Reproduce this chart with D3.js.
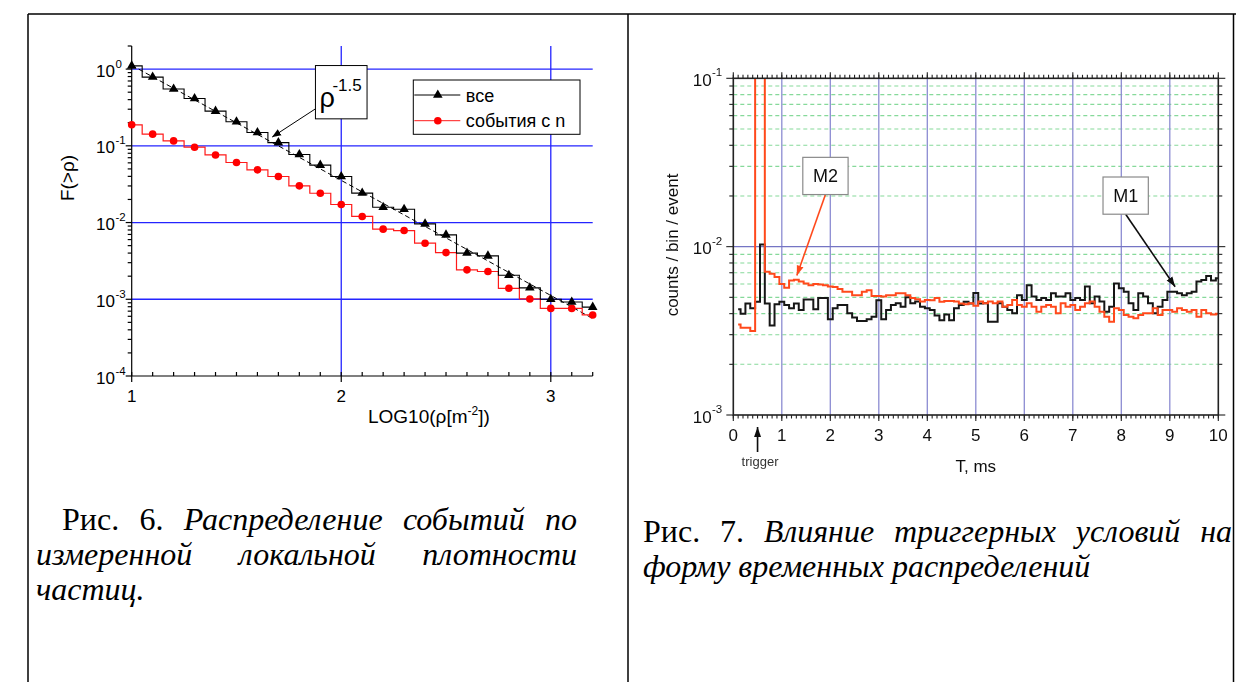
<!DOCTYPE html>
<html>
<head>
<meta charset="utf-8">
<script src="https://cdn.jsdelivr.net/npm/d3@7"></script>
<style>
  html, body { margin: 0; padding: 0; background: #fff; }
  svg { display: block; }
</style>
</head>
<body>
<svg id="fig" width="1236" height="682"></svg>
<script>
// ---------- Рис. 6: integral distribution F(>ρ) ----------
const densityLog = [1.0, 1.1, 1.2, 1.3, 1.4, 1.5, 1.6, 1.7, 1.8, 1.9, 2.0, 2.1,
                    2.2, 2.3, 2.4, 2.5, 2.6, 2.7, 2.8, 2.9, 3.0, 3.1, 3.2];
const allEvents = [1.10, 0.787, 0.55, 0.414, 0.283, 0.206, 0.149, 0.110, 0.077, 0.056,
                   0.0398, 0.0242, 0.0158, 0.0149, 0.0096, 0.0069, 0.0040, 0.00368,
                   0.00206, 0.00141, 0.00100, 0.00092, 0.00079];
const neutronEvents = [0.188, 0.142, 0.116, 0.096, 0.076, 0.0606, 0.0486, 0.0398, 0.0301,
                       0.0241, 0.0172, 0.0120, 0.0082, 0.00787, 0.00538, 0.00406, 0.00242,
                       0.00230, 0.00139, 0.00101, 0.00076, 0.00076, 0.000625];
// ρ^-1.5 reference line, end points
const powerLawLine = [[1.0, 1.12], [3.2, 0.000562]];
const fig6XTicks = [1, 2, 3];
const fig6YTicks = [1, 0.1, 0.01, 0.001, 0.0001];
const fig6YExponents = ["0", "-1", "-2", "-3", "-4"];
const fig6Legend = ["все", "события с n"];
// power-law label: box centre and arrow tip in data units
const powerLawNote = { x: 2.0, y: 0.5, tipX: 1.67, tipY: 0.13, exponent: "-1.5" };

// ---------- Рис. 7: time distributions ----------
const timeBins = [0.1, 0.2, 0.3, 0.4, 0.5, 0.6, 0.7, 0.8, 0.9, 1.0,
                  1.1, 1.2, 1.3, 1.4, 1.5, 1.6, 1.7, 1.8, 1.9, 2.0,
                  2.1, 2.2, 2.3, 2.4, 2.5, 2.6, 2.7, 2.8, 2.9, 3.0,
                  3.1, 3.2, 3.3, 3.4, 3.5, 3.6, 3.7, 3.8, 3.9, 4.0,
                  4.1, 4.2, 4.3, 4.4, 4.5, 4.6, 4.7, 4.8, 4.9, 5.0,
                  5.1, 5.2, 5.3, 5.4, 5.5, 5.6, 5.7, 5.8, 5.9, 6.0,
                  6.1, 6.2, 6.3, 6.4, 6.5, 6.6, 6.7, 6.8, 6.9, 7.0,
                  7.1, 7.2, 7.3, 7.4, 7.5, 7.6, 7.7, 7.8, 7.9, 8.0,
                  8.1, 8.2, 8.3, 8.4, 8.5, 8.6, 8.7, 8.8, 8.9, 9.0,
                  9.1, 9.2, 9.3, 9.4, 9.5, 9.6, 9.7, 9.8, 9.9, 10.0];
// counts / bin / event, in units of 1e-3
const m2Counts = [3.45, 3.3, 3.3, 3.15, 300, 300, 7.1, 6.9, 6.6, 6.0,
                  5.7, 6.3, 6.35, 6.2, 6.05, 5.9, 6.0, 5.95, 5.9, 5.8,
                  5.75, 5.6, 5.4, 5.4, 5.15, 5.15, 5.4, 5.5, 5.1, 5.1,
                  5.05, 5.15, 5.15, 5.28, 5.28, 5.15, 4.95, 4.87, 4.72, 4.82,
                  4.8, 4.95, 4.7, 4.75, 4.75, 4.72, 4.6, 4.55, 4.61, 4.45,
                  4.72, 4.61, 4.72, 4.61, 4.72, 4.4, 4.5, 4.82, 4.5, 4.4,
                  4.61, 4.4, 4.1, 4.4, 4.5, 4.4, 4.02, 4.61, 4.4, 4.5,
                  4.2, 4.4, 4.61, 4.72, 4.4, 4.1, 3.84, 3.58, 4.3, 4.2,
                  3.92, 3.84, 3.75, 3.92, 4.02, 4.02, 4.3, 3.92, 4.2, 4.2,
                  4.1, 4.3, 4.2, 4.1, 4.2, 3.84, 4.2, 4.02, 3.95, 4.0];
const m1Counts = [4.25, 4.0, 4.6, 4.3, 4.7, 10.3, 4.6, 3.4, 4.55, 4.7,
                  4.5, 4.3, 4.6, 4.2, 4.85, 4.85, 4.25, 4.95, 4.95, 3.7,
                  4.3, 4.5, 4.5, 4.02, 3.8, 3.62, 3.62, 3.7, 3.84, 4.8,
                  3.7, 4.2, 4.5, 4.61, 4.4, 5.0, 4.61, 4.72, 4.4, 4.3,
                  4.2, 3.9, 3.66, 3.95, 3.66, 4.3, 4.5, 4.7, 4.6, 5.3,
                  4.6, 4.61, 3.58, 3.58, 4.61, 4.4, 4.2, 4.02, 5.15, 4.82,
                  5.9, 5.05, 4.82, 4.95, 4.82, 5.28, 5.05, 5.05, 5.28, 4.82,
                  4.95, 4.82, 5.8, 4.61, 5.05, 4.72, 4.1, 4.4, 6.05, 5.66,
                  5.4, 4.61, 4.2, 5.28, 5.05, 4.61, 4.02, 4.4, 4.82, 5.4,
                  5.4, 5.28, 5.15, 5.28, 5.4, 6.2, 6.34, 6.7, 6.3, 6.5];
const countUnit = 1e-3;
const fig7XTicks = [0, 1, 2, 3, 4, 5, 6, 7, 8, 9, 10];
const fig7YTicks = [0.001, 0.01, 0.1];
const fig7YExponents = ["-3", "-2", "-1"];
const triggerTime = 0.5;
const fig7Notes = [
  { label: "M2", x: 1.9, y: 0.0263, tipX: 1.31, tipY: 0.00674, color: "#ff4a1c" },
  { label: "M1", x: 8.09, y: 0.0201, tipX: 9.11, tipY: 0.00578, color: "#111" }
];

// ---------- captions ----------
const fig6Caption = [
  [["Рис.", 0], ["6.", 0], ["Распределение", 1], ["событий", 1], ["по", 1]],
  [["измеренной", 1], ["локальной", 1], ["плотности", 1]],
  [["частиц.", 1]]
];
const fig7Caption = [
  [["Рис.", 0], ["7.", 0], ["Влияние", 1], ["триггерных", 1], ["условий", 1], ["на", 1]],
  [["форму", 1], ["временных", 1], ["распределений", 1]]
];

const svg = d3.select("#fig");
const SANS = "'Liberation Sans', Arial, sans-serif";
const SERIF = "'Liberation Serif', 'Times New Roman', serif";

// ---------- table frame ----------
const frame = svg.append("g").attr("stroke", "#000").attr("stroke-width", 1.5);
const frameLeft = 28, frameTop = 14, frameMid = 628, frameRight = 1233.5;
frame.append("line").attr("x1", frameLeft).attr("x2", 1236).attr("y1", frameTop).attr("y2", frameTop);
[frameLeft, frameMid, frameRight].forEach(x =>
  frame.append("line").attr("x1", x).attr("x2", x).attr("y1", frameTop).attr("y2", 682));

// ================= Рис. 6 =================
const x1 = d3.scaleLinear().domain([1, 3.2]).range([131.7, 592.7]);
const y1 = d3.scaleLog().domain([1e-4, 2]).range([376, 46]);
const g1 = svg.append("g").attr("font-family", SANS);

// blue grid
g1.append("g").selectAll("line").data(fig6YTicks.filter(d => d > 1e-4)).join("line")
  .attr("x1", x1(1)).attr("x2", x1(3.2)).attr("y1", d => y1(d)).attr("y2", d => y1(d))
  .attr("stroke", "#2424ff").attr("stroke-width", 1.3);
g1.append("g").selectAll("line").data(fig6XTicks.filter(d => d > 1)).join("line")
  .attr("x1", d => x1(d)).attr("x2", d => x1(d)).attr("y1", y1(2)).attr("y2", y1(1e-4))
  .attr("stroke", "#2424ff").attr("stroke-width", 1.3);

// axes
const ax1 = g1.append("g").attr("stroke", "#000").attr("stroke-width", 1.2);
ax1.append("line").attr("x1", x1(1)).attr("x2", x1(3.2)).attr("y1", y1(1e-4)).attr("y2", y1(1e-4));
ax1.append("line").attr("x1", x1(1)).attr("x2", x1(1)).attr("y1", y1(2)).attr("y2", y1(1e-4));
const xMinor1 = x1.ticks(22);
ax1.selectAll(".xm").data(xMinor1).join("line")
  .attr("x1", d => x1(d)).attr("x2", d => x1(d))
  .attr("y1", y1(1e-4)).attr("y2", y1(1e-4) - 4);
ax1.selectAll(".xM").data(fig6XTicks).join("line")
  .attr("x1", d => x1(d)).attr("x2", d => x1(d))
  .attr("y1", y1(1e-4)).attr("y2", y1(1e-4) + 6);
const yMinor1 = [];
fig6YTicks.forEach(dec => { for (let k = 2; k <= 9; k++) if (dec * k <= 2) yMinor1.push(dec * k); });
ax1.selectAll(".ym").data(yMinor1).join("line")
  .attr("x1", x1(1) - 4).attr("x2", x1(1)).attr("y1", d => y1(d)).attr("y2", d => y1(d));
ax1.selectAll(".yM").data(fig6YTicks).join("line")
  .attr("x1", x1(1) - 6).attr("x2", x1(1)).attr("y1", d => y1(d)).attr("y2", d => y1(d));

// tick labels
g1.selectAll(".xl").data(fig6XTicks).join("text")
  .attr("x", d => x1(d)).attr("y", 402).attr("text-anchor", "middle")
  .attr("font-size", 17).text(d => d);
fig6YTicks.forEach((d, i) => {
  g1.append("text").attr("x", 115).attr("y", y1(d) + 7.5).attr("text-anchor", "end")
    .attr("font-size", 17).text("10");
  g1.append("text").attr("x", 115.5).attr("y", y1(d) - 1.5).attr("font-size", 11.5)
    .text(fig6YExponents[i]);
});

// axis titles
const xt1 = g1.append("text").attr("x", 368).attr("y", 423).attr("font-size", 19);
xt1.append("tspan").text("LOG10(ρ[m");
xt1.append("tspan").attr("dy", -8).attr("font-size", 12).text("-2");
xt1.append("tspan").attr("dy", 8).text("])");
g1.append("text").attr("transform", "translate(74,178) rotate(-90)")
  .attr("text-anchor", "middle").attr("font-size", 19).text("F(>ρ)");

// power-law reference (dashed)
g1.append("path").datum(powerLawLine)
  .attr("d", d3.line().x(d => x1(d[0])).y(d => y1(d[1])))
  .attr("fill", "none").attr("stroke", "#000").attr("stroke-width", 1)
  .attr("stroke-dasharray", "5,3");

// step histograms with markers
const step1 = d3.line().curve(d3.curveStep).x((d, i) => x1(densityLog[i])).y(d => y1(d));
g1.append("path").datum(neutronEvents).attr("d", step1)
  .attr("fill", "none").attr("stroke", "#ff1a1a").attr("stroke-width", 1.2);
g1.append("path").datum(allEvents).attr("d", step1)
  .attr("fill", "none").attr("stroke", "#000").attr("stroke-width", 1.1);
g1.selectAll(".circ").data(neutronEvents).join("circle")
  .attr("cx", (d, i) => x1(densityLog[i])).attr("cy", d => y1(d)).attr("r", 3.8)
  .attr("fill", "#ff0000");
const tri = d3.symbol().type(d3.symbolTriangle).size(40);
g1.selectAll(".tri").data(allEvents).join("path")
  .attr("d", tri).attr("transform", (d, i) => `translate(${x1(densityLog[i])},${y1(d)})`)
  .attr("fill", "#000");

// ρ^-1.5 label with arrow
svg.append("defs").html(`
  <marker id="ahBlack" viewBox="0 0 10 10" refX="10" refY="5" markerWidth="9" markerHeight="9" markerUnits="userSpaceOnUse" orient="auto">
    <path d="M0,1 L10,5 L0,9 z" fill="#000"/></marker>
  <marker id="ahBlack2" viewBox="0 0 10 10" refX="10" refY="5" markerWidth="10" markerHeight="10" markerUnits="userSpaceOnUse" orient="auto">
    <path d="M0,1.5 L10,5 L0,8.5 z" fill="#111"/></marker>
  <marker id="ahOrange" viewBox="0 0 10 10" refX="10" refY="5" markerWidth="10" markerHeight="10" markerUnits="userSpaceOnUse" orient="auto">
    <path d="M0,1.5 L10,5 L0,8.5 z" fill="#ff4a1c"/></marker>
  <filter id="soft" x="-5%" y="-5%" width="110%" height="110%"><feGaussianBlur stdDeviation="0.55"/></filter>
  <clipPath id="plot7"><rect x="733.3" y="78.3" width="485" height="336.7"/></clipPath>
`);
{
  const cx = x1(powerLawNote.x), cy = y1(powerLawNote.y);
  const bw = 51.6, bh = 53.3, bx = cx - bw / 2, by = cy - bh / 2;
  g1.append("line").attr("x1", bx).attr("y1", by + bh - 10)
    .attr("x2", x1(powerLawNote.tipX)).attr("y2", y1(powerLawNote.tipY))
    .attr("stroke", "#000").attr("stroke-width", 1).attr("marker-end", "url(#ahBlack)");
  g1.append("rect").attr("x", bx).attr("y", by).attr("width", bw).attr("height", bh)
    .attr("fill", "#fff").attr("stroke", "#000").attr("stroke-width", 1);
  g1.append("text").attr("x", bx + 4).attr("y", by + 41).attr("font-size", 27).text("ρ");
  g1.append("text").attr("x", bx + 17).attr("y", by + 25).attr("font-size", 17)
    .text(powerLawNote.exponent);
}

// legend
{
  const lx = 413.3, ly = 80, lw = 166.7, lh = 54.3;
  const lg = g1.append("g");
  lg.append("rect").attr("x", lx).attr("y", ly).attr("width", lw).attr("height", lh)
    .attr("fill", "#fff").attr("stroke", "#000").attr("stroke-width", 1);
  const rows = [ly + 15, ly + 40.7];
  const colors = ["#000", "#ff1a1a"];
  fig6Legend.forEach((name, i) => {
    lg.append("line").attr("x1", lx + 1).attr("x2", lx + 47).attr("y1", rows[i]).attr("y2", rows[i])
      .attr("stroke", colors[i]).attr("stroke-width", 1);
    if (i === 0) {
      lg.append("path").attr("d", tri).attr("transform", `translate(${lx + 24.5},${rows[i]})`).attr("fill", "#000");
    } else {
      lg.append("circle").attr("cx", lx + 24.5).attr("cy", rows[i]).attr("r", 3.8).attr("fill", "#ff0000");
    }
    lg.append("text").attr("x", lx + 52.5).attr("y", rows[i] + 6.5).attr("font-size", 18).text(name);
  });
}

// ================= Рис. 7 =================
const x2 = d3.scaleLinear().domain([0, 10]).range([733.3, 1218.3]);
const y2 = d3.scaleLog().domain([1e-3, 1e-1]).range([415, 78.3]);
const g2 = svg.append("g").attr("font-family", SANS).attr("filter", "url(#soft)");

// green dashed minor grid
const yMinor2 = [];
[1e-3, 1e-2].forEach(dec => { for (let k = 2; k <= 9; k++) yMinor2.push(dec * k); });
g2.append("g").selectAll("line").data(yMinor2).join("line")
  .attr("x1", x2(0)).attr("x2", x2(10)).attr("y1", d => y2(d)).attr("y2", d => y2(d))
  .attr("stroke", "#86d99a").attr("stroke-width", 1.1).attr("stroke-dasharray", "4,3");
// blue major grid
g2.append("g").selectAll("line").data(fig7XTicks.filter(d => d > 0 && d < 10)).join("line")
  .attr("x1", d => x2(d)).attr("x2", d => x2(d)).attr("y1", y2(1e-1)).attr("y2", y2(1e-3))
  .attr("stroke", "#8c8cd2").attr("stroke-width", 1.3);
g2.append("line").attr("x1", x2(0)).attr("x2", x2(10)).attr("y1", y2(1e-2)).attr("y2", y2(1e-2))
  .attr("stroke", "#7474c4").attr("stroke-width", 1.3);

// histograms
const step2 = d3.line().curve(d3.curveStep).x((d, i) => x2(timeBins[i])).y(d => y2(d * countUnit));
const series = g2.append("g").attr("clip-path", "url(#plot7)");
series.append("path").datum(m1Counts).attr("d", step2)
  .attr("fill", "none").attr("stroke", "#161616").attr("stroke-width", 2);
series.append("path").datum(m2Counts).attr("d", step2)
  .attr("fill", "none").attr("stroke", "#ff4a1c").attr("stroke-width", 2);

// axes frame and ticks
const ax2 = g2.append("g").attr("stroke", "#222").attr("stroke-width", 1.6);
ax2.append("rect").attr("x", x2(0)).attr("y", y2(1e-1))
  .attr("width", x2(10) - x2(0)).attr("height", y2(1e-3) - y2(1e-1)).attr("fill", "none");
const tk = ax2.append("g").attr("stroke-width", 1.1);
const xMinor2 = x2.ticks(100);
tk.selectAll(".bm").data(xMinor2).join("line")
  .attr("x1", d => x2(d)).attr("x2", d => x2(d)).attr("y1", y2(1e-3)).attr("y2", y2(1e-3) + 3.5);
tk.selectAll(".tm").data(xMinor2).join("line")
  .attr("x1", d => x2(d)).attr("x2", d => x2(d)).attr("y1", y2(1e-1)).attr("y2", y2(1e-1) - 3.5);
tk.selectAll(".bM").data(fig7XTicks).join("line")
  .attr("x1", d => x2(d)).attr("x2", d => x2(d)).attr("y1", y2(1e-3)).attr("y2", y2(1e-3) + 6);
tk.selectAll(".tM").data(fig7XTicks).join("line")
  .attr("x1", d => x2(d)).attr("x2", d => x2(d)).attr("y1", y2(1e-1)).attr("y2", y2(1e-1) - 6);
tk.selectAll(".lm").data(yMinor2).join("line")
  .attr("x1", x2(0) - 4).attr("x2", x2(0)).attr("y1", d => y2(d)).attr("y2", d => y2(d));
tk.selectAll(".rm").data(yMinor2).join("line")
  .attr("x1", x2(10)).attr("x2", x2(10) + 4).attr("y1", d => y2(d)).attr("y2", d => y2(d));
tk.selectAll(".lM").data(fig7YTicks).join("line")
  .attr("x1", x2(0) - 7).attr("x2", x2(0)).attr("y1", d => y2(d)).attr("y2", d => y2(d));
tk.selectAll(".rM").data(fig7YTicks).join("line")
  .attr("x1", x2(10)).attr("x2", x2(10) + 7).attr("y1", d => y2(d)).attr("y2", d => y2(d));

// tick labels
g2.selectAll(".xl").data(fig7XTicks).join("text")
  .attr("x", d => x2(d)).attr("y", 441).attr("text-anchor", "middle")
  .attr("font-size", 17).attr("fill", "#111").text(d => d);
fig7YTicks.forEach((d, i) => {
  g2.append("text").attr("x", 711.7).attr("y", y2(d) + 7.5).attr("text-anchor", "end")
    .attr("font-size", 17).attr("fill", "#111").text("10");
  g2.append("text").attr("x", 712).attr("y", y2(d) - 2).attr("font-size", 11.5)
    .attr("fill", "#111").text(fig7YExponents[i]);
});
g2.append("text").attr("x", x2(5)).attr("y", 472).attr("text-anchor", "middle")
  .attr("font-size", 17).attr("fill", "#111").text("T, ms");
g2.append("text").attr("transform", "translate(678,245) rotate(-90)")
  .attr("text-anchor", "middle").attr("font-size", 17).attr("fill", "#111")
  .text("counts / bin / event");

// trigger marker
g2.append("line").attr("x1", x2(triggerTime)).attr("x2", x2(triggerTime))
  .attr("y1", 452).attr("y2", 427).attr("stroke", "#111").attr("stroke-width", 1.6)
  .attr("marker-end", "url(#ahBlack2)");
g2.append("text").attr("x", x2(triggerTime) + 2.5).attr("y", 466).attr("text-anchor", "middle")
  .attr("font-size", 13).attr("fill", "#333").text("trigger");

// M1 / M2 labels
fig7Notes.forEach(n => {
  const cx = x2(n.x), cy = y2(n.y), bw = 45.3, bh = 37.2;
  g2.append("line").attr("x1", cx).attr("y1", cy + bh / 2)
    .attr("x2", x2(n.tipX)).attr("y2", y2(n.tipY))
    .attr("stroke", n.color).attr("stroke-width", 1.6)
    .attr("marker-end", n.label === "M2" ? "url(#ahOrange)" : "url(#ahBlack2)");
  g2.append("rect").attr("x", cx - bw / 2).attr("y", cy - bh / 2).attr("width", bw).attr("height", bh)
    .attr("fill", "#fff").attr("stroke", "#8a8a8a").attr("stroke-width", 1.2);
  g2.append("text").attr("x", cx).attr("y", cy + 6.5).attr("text-anchor", "middle")
    .attr("font-size", 18).attr("fill", "#111").text(n.label);
});

// ---------- captions (justified lines) ----------
function captionLine(words, x0, x1r, y, justify) {
  const g = svg.append("g").attr("font-family", SERIF).attr("font-size", 32).attr("fill", "#000");
  const nodes = words.map(w => g.append("text").attr("y", y)
    .attr("font-style", w[1] ? "italic" : "normal").text(w[0]));
  const widths = nodes.map(n => n.node().getComputedTextLength());
  const space = 8;
  const gap = justify && words.length > 1
    ? (x1r - x0 - d3.sum(widths)) / (words.length - 1) : space;
  let x = x0;
  nodes.forEach((n, i) => { n.attr("x", x); x += widths[i] + gap; });
}
captionLine(fig6Caption[0], 62, 577, 530, true);
captionLine(fig6Caption[1], 36, 577, 565, true);
captionLine(fig6Caption[2], 36, 577, 600, false);
captionLine(fig7Caption[0], 643, 1232, 542, true);
captionLine(fig7Caption[1], 643, 1232, 577, false);
</script>
</body>
</html>
